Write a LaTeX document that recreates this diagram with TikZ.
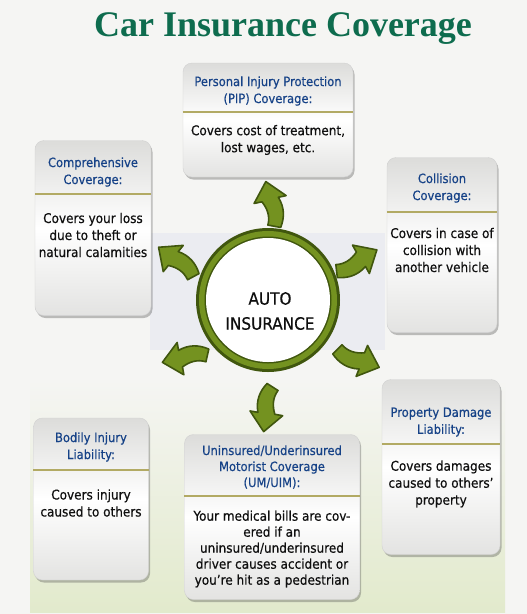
\documentclass[tikz,border=0pt]{standalone}
\usepackage{fontspec}
\setmainfont{DejaVu Sans Condensed}[FakeBold=0.5]
\newfontfamily\titlefont{Liberation Serif}
\usetikzlibrary{shadows}
\definecolor{bg}{RGB}{245,245,243}
\definecolor{titlegreen}{RGB}{14,108,78}
\definecolor{headblue}{RGB}{22,66,135}
\definecolor{bodytxt}{RGB}{15,15,15}
\definecolor{olive}{RGB}{116,146,32}
\definecolor{olivedark}{RGB}{64,86,14}
\definecolor{sepcol}{RGB}{178,170,100}
\definecolor{boxgray}{RGB}{220,220,218}
\definecolor{lightgreen}{RGB}{226,234,204}
\definecolor{carghost}{RGB}{235,236,241}
\begin{document}
\begin{tikzpicture}[x=1pt,y=-1pt,
  infobox/.style={rounded corners=9pt, draw=black!18, line width=0.4pt,
    top color=boxgray, bottom color=boxgray!80, middle color=white,
    drop shadow={shadow xshift=1.5pt, shadow yshift=-2.5pt, opacity=0.35, fill=black!70}},
  headtxt/.style={text=headblue, align=center, inner sep=0pt, font=\fontsize{12.8}{17}\selectfont},
  bodytext/.style={text=bodytxt, align=center, inner sep=0pt, font=\fontsize{13.4}{17}\selectfont},
  sepline/.style={draw=sepcol, line width=1.8pt},
  arrowstyle/.style={fill=olive, draw=olivedark, line width=1.6pt, line join=round},
  garrow/.pic={\draw[arrowstyle] (0,-25) -- (17,-7) -- (9,-7) .. controls (13,4) and (11,14) .. (5,23) -- (-7,18) .. controls (-3,10) and (-4,2) .. (-8,-6) -- (-16,-6) -- cycle;}
]
\useasboundingbox (0,0) rectangle (527,614);
\fill[bg] (0,0) rectangle (527,614);
\shade[top color=bg, bottom color=lightgreen] (30,380) rectangle (505,612);
\fill[carghost] (150,233) rectangle (385,350);

% title
\node[text=titlegreen, font=\titlefont\bfseries\fontsize{36}{40}\selectfont, anchor=base, inner sep=0pt] (title) at (283,36) {Car Insurance Coverage};

% centre ring
\fill[olivedark] (268,300) circle (72);
\fill[olive] (268,300) circle (69);
\fill[olivedark] (268,300) circle (63.5);
\fill[white] (268,300) circle (62);
\node[text=bodytxt, align=center, inner sep=0pt, font=\fontsize{17}{25}\selectfont] (hub) at (270,311) {AUTO\\INSURANCE};

% arrows
\pic[rotate=12] at (271,206) {garrow};
\pic[rotate=51] at (178,263) {garrow};
\pic[rotate=-61] at (355,262) {garrow};
\pic[rotate=-112] at (356,358) {garrow};
\pic[rotate=170] at (268,407) {garrow};
\pic[rotate=100] at (187,358) {garrow};

% PIP
\node[infobox, minimum width=170pt, minimum height=114pt] (pip) at (268,120) {};
\node[headtxt] (piph) at (268,91) {Personal Injury Protection\\(PIP) Coverage:};
\draw[sepline] (pip.west |- 0,112) -- (pip.east |- 0,112);
\node[bodytext] (pipb) at (268,140) {Covers cost of treatment,\\lost wages, etc.};

% Comprehensive
\node[infobox, minimum width=116pt, minimum height=175pt] (comp) at (93,228) {};
\node[headtxt] (comph) at (93,172) {Comprehensive\\Coverage:};
\draw[sepline] (comp.west |- 0,194) -- (comp.east |- 0,194);
\node[bodytext] (compb) at (93,235) {Covers your loss\\due to theft or\\natural calamities};

% Collision
\node[infobox, minimum width=110pt, minimum height=175pt] (coll) at (442,245) {};
\node[headtxt] (collh) at (442,188) {Collision\\Coverage:};
\draw[sepline] (coll.west |- 0,212) -- (coll.east |- 0,212);
\node[bodytext] (collb) at (442,250) {Covers in case of\\collision with\\another vehicle};

% Bodily Injury
\node[infobox, minimum width=115pt, minimum height=162pt] (bod) at (91,499) {};
\node[headtxt] (bodh) at (91,447) {Bodily Injury\\Liability:};
\draw[sepline] (bod.west |- 0,470) -- (bod.east |- 0,470);
\node[bodytext] (bodb) at (91,503) {Covers injury\\caused to others};

% UM/UIM
\node[infobox, minimum width=175pt, minimum height=165pt] (um) at (272,517) {};
\node[headtxt, font=\fontsize{12.8}{16}\selectfont] (umh) at (272,467) {Uninsured/Underinsured\\Motorist Coverage\\(UM/UIM):};
\draw[sepline] (um.west |- 0,496) -- (um.east |- 0,496);
\node[bodytext, font=\fontsize{13.4}{16}\selectfont] (umb) at (272,549) {Your medical bills are cov-\\ered if an\\uninsured/underinsured\\driver causes accident or\\you’re hit as a pedestrian};

% Property Damage
\node[infobox, minimum width=118pt, minimum height=175pt] (prop) at (441,467) {};
\node[headtxt] (proph) at (441,422) {Property Damage\\Liability:};
\draw[sepline] (prop.west |- 0,444) -- (prop.east |- 0,444);
\node[bodytext] (propb) at (441,484) {Covers damages\\caused to others’\\property};
\end{tikzpicture}
\end{document}
